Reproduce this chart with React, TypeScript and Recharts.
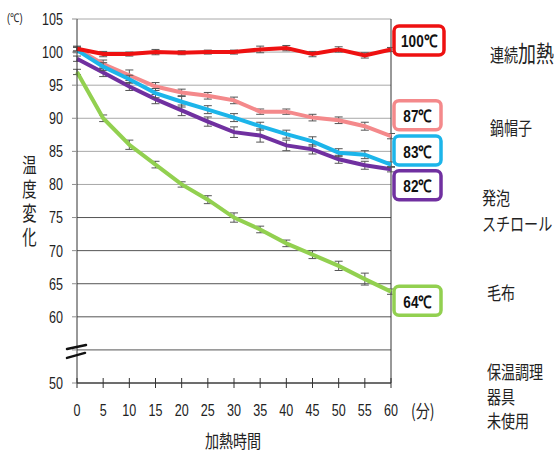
import { CartesianGrid, ErrorBar, LabelList, Line, LineChart, ReferenceLine, XAxis, YAxis } from 'recharts';

const times = [0, 5, 10, 15, 20, 25, 30, 35, 40, 45, 50, 55, 60];
const yTicks = [50, 55, 60, 65, 70, 75, 80, 85, 90, 95, 100, 105];
const lightGrid = [80, 85, 90, 95, 100, 105];
const darkGrid = [50, 55, 60, 65, 70, 75];

const renzoku = [100.5, 99.7, 99.7, 100.0, 99.9, 100.0, 100.0, 100.4, 100.6, 99.7, 100.4, 99.5, 100.4];
const nabeboushi = [100.5, 98.2, 96.5, 94.8, 93.9, 93.4, 92.7, 91.0, 91.0, 90.1, 89.7, 88.8, 87.3];
const happou = [100.3, 97.8, 95.9, 93.8, 92.5, 91.3, 90.1, 88.8, 87.6, 86.5, 84.8, 84.5, 83.0];
const moufu = [99.0, 96.9, 94.8, 92.9, 91.2, 89.5, 87.9, 87.4, 85.9, 85.3, 83.8, 82.9, 82.3];
const mishiyou = [97.0, 90.0, 86.0, 83.0, 80.0, 77.7, 75.0, 73.2, 71.1, 69.4, 67.7, 65.7, 63.8];

const renzokuErr = [0.3, 0.4, 0.3, 0.4, 0.3, 0.3, 0.3, 0.5, 0.4, 0.4, 0.4, 0.4, 0.3];
const nabeboushiErr = [0.4, 0.6, 0.8, 0.6, 0.5, 0.5, 0.5, 0.4, 0.4, 0.5, 0.5, 0.6, 0.4];
const happouErr = [0.4, 0.6, 0.6, 0.7, 0.8, 0.6, 0.6, 0.6, 0.6, 0.7, 0.6, 0.6, 0.4];
const moufuErr = [0.4, 0.6, 0.6, 0.7, 0.8, 0.7, 0.8, 1.0, 0.8, 0.7, 0.6, 0.6, 0.4];
const mishiyouErr = [0.4, 0.5, 0.7, 0.5, 0.4, 0.6, 0.7, 0.5, 0.5, 0.6, 0.7, 0.9, 0.4];

const data = times.map((t, i) => ({
  t,
  renzoku: renzoku[i], renzokuErr: renzokuErr[i],
  nabeboushi: nabeboushi[i], nabeboushiErr: nabeboushiErr[i],
  happou: happou[i], happouErr: happouErr[i],
  moufu: moufu[i], moufuErr: moufuErr[i],
  mishiyou: mishiyou[i], mishiyouErr: mishiyouErr[i],
}));

// draw order: bottom first
const series = [
  { key: 'mishiyou', color: '#92d050', boxDy: 9, boxW: 47 },
  { key: 'moufu', color: '#7030a0', boxDy: 16, boxW: 47 },
  { key: 'nabeboushi', color: '#f4898b', boxDy: -21, boxW: 47 },
  { key: 'happou', color: '#1cb5ea', boxDy: -14, boxW: 47 },
  { key: 'renzoku', color: '#ee1111', boxDy: -9, boxW: 50 },
];

const NUM_FONT = '"Liberation Sans", Arial, sans-serif';
const JP_FONT = '"Noto Sans CJK JP", sans-serif';
const SQ = 0.74; // the source picture is squeezed sideways

function XTick({ x, y, payload }: any) {
  return (
    <g>
      <line x1={x} x2={x} y1={y - 5} y2={y + 5} stroke="#333" strokeWidth={1} />
      <text transform={`translate(${x} ${y + 27}) scale(${SQ} 1)`} dy="0.35em" textAnchor="middle" fontFamily={NUM_FONT} fontSize={17} fill="#222">
        {payload.value}
      </text>
    </g>
  );
}

function YTick({ x, y, payload }: any) {
  if (payload.value === 55) {
    return (
      <g stroke="#111" strokeWidth={2.5} strokeLinecap="round">
        <line x1={x + 4} y1={y - 1} x2={x + 23} y2={y - 5} />
        <line x1={x + 4} y1={y + 8} x2={x + 22} y2={y + 3} />
      </g>
    );
  }
  return (
    <text transform={`translate(${x} ${y}) scale(${SQ} 1)`} dy="0.35em" textAnchor="end" fontFamily={NUM_FONT} fontSize={17} fill="#222">
      {payload.value}
    </text>
  );
}

function makeBox(color: string, dy: number, w: number) {
  return (props: any) => {
    const { x, y, index, value } = props;
    if (index !== times.length - 1) return null;
    const cy = y + dy;
    return (
      <g>
        <rect x={x + 3} y={cy - 14.5} width={w} height={29} rx={5} fill="#fff" stroke={color} strokeWidth={3.5} />
        <text transform={`translate(${x + 3 + w / 2} ${cy + 1}) scale(0.8 1)`} dy="0.35em" textAnchor="middle" fontFamily={NUM_FONT} fontWeight="bold" fontSize={17} fill="#111">
          {Math.round(value)}℃
        </text>
      </g>
    );
  };
}

const sideText: React.CSSProperties = {
  position: 'absolute', fontFamily: JP_FONT, fontSize: 18, color: '#222', lineHeight: '25px',
  whiteSpace: 'nowrap', transform: 'scaleX(0.78)', transformOrigin: 'left top',
};

export default function App() {
  return (
    <div style={{ position: 'absolute', left: 0, top: 0, width: 556, height: 455, background: '#fff', overflow: 'hidden' }}>
      <LineChart width={556} height={455} data={data} margin={{ top: 19, right: 165, left: 0, bottom: 42 }}>
        <CartesianGrid horizontal vertical={false} horizontalValues={lightGrid} stroke="#a8a8a8" strokeWidth={1} />
        <CartesianGrid horizontal vertical={false} horizontalValues={darkGrid} stroke="#555" strokeWidth={1} />
        <XAxis
          dataKey="t"
          type="number"
          domain={[0, 60]}
          ticks={times}
          interval={0}
          height={30}
          tickSize={0}
          tickMargin={0}
          tick={<XTick />}
          axisLine={{ stroke: '#333' }}
        />
        <YAxis
          type="number"
          domain={[50, 105]}
          ticks={yTicks}
          interval={0}
          width={77}
          tickSize={5}
          tickMargin={9}
          tickLine={{ stroke: '#8f8f8f' }}
          tick={<YTick />}
          axisLine={{ stroke: '#333' }}
        />
        <ReferenceLine x={60} stroke="#333" strokeWidth={1} />
        {series.map((s) => (
          <Line
            key={s.key}
            dataKey={s.key}
            type="linear"
            stroke={s.color}
            strokeWidth={4}
            dot={false}
            activeDot={false}
            isAnimationActive={false}
          >
            <ErrorBar dataKey={s.key + 'Err'} direction="y" width={4} stroke="#555" strokeWidth={1} isAnimationActive={false} />
            <LabelList dataKey={s.key} content={makeBox(s.color, s.boxDy, s.boxW)} />
          </Line>
        ))}
      </LineChart>

      <div style={{ ...sideText, left: 7, top: 10, fontSize: 12, lineHeight: '16px', fontFamily: NUM_FONT }}>(℃)</div>
      <div style={{ ...sideText, left: 22, top: 155, fontSize: 20, writingMode: 'vertical-rl', lineHeight: '20px', letterSpacing: 4, transform: 'scaleX(0.72)' }}>温度変化</div>
      <div style={{ ...sideText, left: 411, top: 398, fontSize: 18 }}>(分)</div>
      <div style={{ ...sideText, left: 205, top: 428, fontSize: 18 }}>加熱時間</div>

      <div style={{ ...sideText, left: 490, top: 40 }}>連続<span style={{ fontSize: 23 }}>加熱</span></div>
      <div style={{ ...sideText, left: 490, top: 115 }}>鍋帽子</div>
      <div style={{ ...sideText, left: 482, top: 184, lineHeight: '26px' }}>発泡<br />スチロール</div>
      <div style={{ ...sideText, left: 487, top: 280 }}>毛布</div>
      <div style={{ ...sideText, left: 487, top: 359, lineHeight: '24.5px' }}>保温調理<br />器具<br />未使用</div>
    </div>
  );
}
